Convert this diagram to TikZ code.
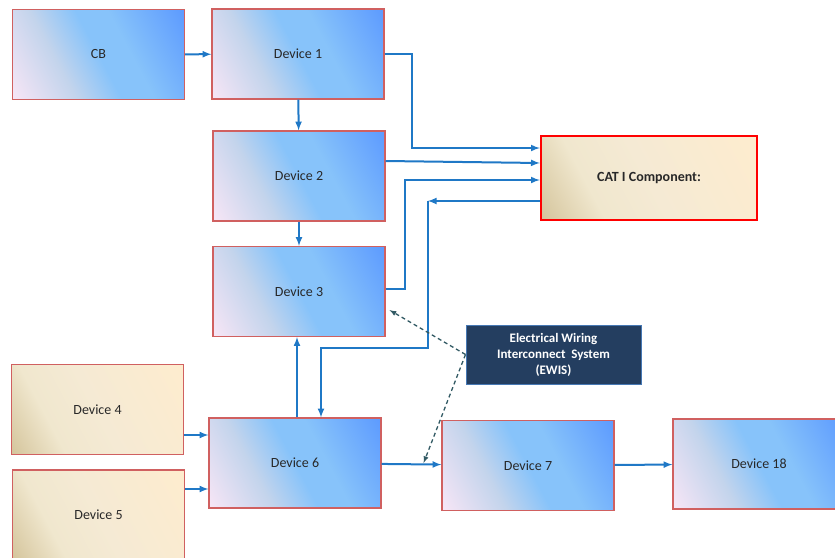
\documentclass[tikz,border=0pt]{standalone}
\usepackage{fontspec}
\setmainfont{Carlito}
\usepackage{xcolor}
\usepackage{tikz}
\usetikzlibrary{shapes,positioning,arrows}
\definecolor{wireblue}{RGB}{31, 120, 198}
\definecolor{boxedge}{RGB}{208, 96, 96}
\definecolor{blueup}{RGB}{92, 154, 255}
\definecolor{bluemid}{RGB}{135, 195, 250}
\definecolor{bluegrey}{RGB}{195, 212, 236}
\definecolor{bluelow}{RGB}{248, 230, 246}
\definecolor{tanlow}{RGB}{212, 196, 155}
\definecolor{tanmid}{RGB}{240, 231, 206}
\definecolor{tancream}{RGB}{245, 234, 212}
\definecolor{tanup}{RGB}{254, 236, 206}
\definecolor{ewisfill}{RGB}{36, 62, 96}
\definecolor{ewisedge}{RGB}{70, 120, 180}
\definecolor{dashteal}{RGB}{50, 90, 100}
\definecolor{textgrey}{RGB}{40, 40, 40}
\pgfdeclareverticalshading{devshade}{100bp}{color(0bp)=(bluelow); color(16bp)=(bluelow); color(36bp)=(bluegrey); color(50bp)=(bluemid); color(60bp)=(bluemid); color(84bp)=(blueup); color(100bp)=(blueup)}
\pgfdeclareverticalshading{tanshade}{100bp}{color(0bp)=(tanlow); color(16bp)=(tanlow); color(33bp)=(tanmid); color(50bp)=(tancream); color(84bp)=(tanup); color(100bp)=(tanup)}

\begin{document}
\begin{tikzpicture}[
    x=1pt, y=-1pt,
    devbox/.style={rectangle, draw=boxedge, line width=1.2pt, shading=devshade, shading angle=-62, minimum width=172pt, minimum height=90pt, text=textgrey, font=\fontsize{14}{16}\selectfont},
    tanbox/.style={devbox, shading=tanshade, shading angle=-62},
    catbox/.style={rectangle, draw=red, line width=2.4pt, shading=tanshade, shading angle=-62, minimum width=216pt, minimum height=84pt, text=textgrey, font=\fontsize{14}{16}\selectfont\bfseries},
    ewisbox/.style={rectangle, draw=ewisedge, line width=1pt, fill=ewisfill, text=white, align=center, minimum width=175pt, minimum height=59pt, font=\fontsize{13}{16}\selectfont\bfseries},
    arrow/.style={-latex, wireblue, line width=2pt},
    ewisarrow/.style={-latex, dashteal, line width=1.3pt, dash pattern=on 4pt off 3pt}
]
\useasboundingbox (0,0) rectangle (835,557);

\node[devbox] (cb) at (98.5,54.5) {CB};
\node[devbox] (dev1) at (298,54) {Device 1};
\node[devbox] (dev2) at (299,176) {Device 2};
\node[devbox] (dev3) at (299,291.5) {Device 3};
\node[catbox] (cat) at (649,178) {CAT I Component:};
\node[ewisbox] (ewis) at (553.5,354.5) {Electrical Wiring\\Interconnect~ System\\(EWIS)};
\node[tanbox] (dev4) at (97.5,409.5) {Device 4};
\node[tanbox] (dev5) at (98.5,515) {Device 5};
\node[devbox] (dev6) at (295,463) {Device 6};
\node[devbox] (dev7) at (528,465.5) {Device 7};
\node[devbox] (dev18) at (759,464) {Device 18};

\draw[arrow] (cb) -- (dev1);
\draw[arrow] (dev1) -- (dev2);
\draw[arrow] (dev2) -- (dev3);
\draw[arrow] ([xshift=2pt]dev6.north) -- ([xshift=-2pt]dev3.south);
\draw[arrow] (dev1.east) -- ++(27,0) |- ([yshift=30pt]cat.west);
\draw[arrow] ([yshift=15pt]dev2.east) -- ([yshift=15pt]cat.west);
\draw[arrow] ([yshift=3pt]dev3.east) -- ++(19,0) |- ([yshift=-2pt]cat.west);
\draw[arrow] ([yshift=-23pt]cat.west) -- ++(-112,0) coordinate (bend);
\draw[arrow] (bend) -- ++(0,147) -| ([xshift=26pt]dev6.north);
\draw[arrow] ([yshift=-25.5pt]dev4.east) -- ([yshift=28pt]dev6.west);
\draw[arrow] ([yshift=26pt]dev5.east) -- ([yshift=-26pt]dev6.west);
\draw[arrow] (dev6) -- (dev7);
\draw[arrow] (dev7) -- (dev18);

% EWIS callouts
\coordinate (ewis3) at ([shift={(4pt,27pt)}]dev3.south east);
\coordinate (ewis67) at ([xshift=42pt]dev6.east);
\draw[ewisarrow] (ewis.west) -- (ewis3);
\draw[ewisarrow] (ewis.west) -- (ewis67);

\end{tikzpicture}
\end{document}
